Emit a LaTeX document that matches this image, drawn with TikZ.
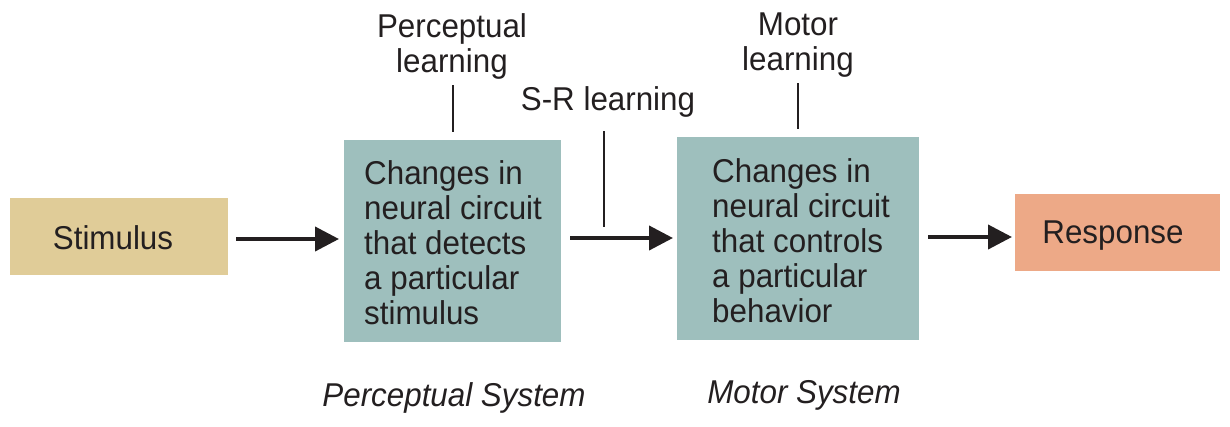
\documentclass[tikz,border=0pt]{standalone}
\usepackage{fontspec}
\setmainfont{Liberation Sans}[FakeStretch=0.95]
\usetikzlibrary{arrows.meta}
\definecolor{stimc}{HTML}{E0CC98}
\definecolor{boxc}{HTML}{9EBFBD}
\definecolor{respc}{HTML}{EDA987}
\definecolor{ink}{HTML}{231F20}
\tikzset{
  lbl/.style={font=\fontsize{33}{35}\selectfont, text=ink, align=center, inner sep=0pt},
  blk/.style={draw=none, inner sep=0pt, anchor=north west},
  boxtext/.style={font=\fontsize{33}{35}\selectfont, text=ink, align=left, anchor=north west, inner sep=0pt},
  flow/.style={line width=4pt, draw=ink, -{Triangle[length=24pt,width=24pt]}},
  tick/.style={line width=1.4pt, draw=ink},
}
\begin{document}
\begin{tikzpicture}[x=1pt,y=-1pt]
\useasboundingbox (0,0) rectangle (1230,426);
% boxes
\node[blk, fill=stimc, minimum width=218pt, minimum height=77pt] (stim) at (10,198) {};
\node[lbl, anchor=base] (stimt) at (113,249) {Stimulus};
\node[blk, fill=boxc, minimum width=217pt, minimum height=202pt] (perc) at (344,140) {};
\node[boxtext] (perct) at (364,160) {Changes in\\neural circuit\\that detects\\a particular\\stimulus};
\node[blk, fill=boxc, minimum width=242pt, minimum height=203pt] (mot) at (677,137) {};
\node[boxtext] (mott) at (712,158) {Changes in\\neural circuit\\that controls\\a particular\\behavior};
\node[blk, fill=respc, minimum width=205pt, minimum height=77pt] (resp) at (1015,194) {};
\node[lbl, anchor=base] (respt) at (1113,243) {Response};
% arrows
\coordinate (a1s) at (236,239); \coordinate (a1e) at (339,239);
\coordinate (a2s) at (570,238); \coordinate (a2e) at (673,238);
\coordinate (a3s) at (928,237); \coordinate (a3e) at (1012,237);
\draw[flow] (a1s) -- (a1e);
\draw[flow] (a2s) -- (a2e);
\draw[flow] (a3s) -- (a3e);
% labels and ticks
\node[lbl, anchor=north] (pl) at (452,13.5) {Perceptual\\learning};
\coordinate (plt) at (453,85); \coordinate (plb) at (453,132);
\draw[tick] (plt) -- (plb);
\node[lbl, anchor=base] (srl) at (608,110) {S-R learning};
\coordinate (srt) at (604,131); \coordinate (srb) at (604,227);
\draw[tick] (srt) -- (srb);
\node[lbl, anchor=north] (ml) at (798,12.5) {Motor\\learning};
\coordinate (mlt) at (798,83); \coordinate (mlb) at (798,129);
\draw[tick] (mlt) -- (mlb);
\node[lbl, anchor=base, font=\fontsize{33}{35}\selectfont\itshape] (ps) at (454,406) {Perceptual System};
\node[lbl, anchor=base, font=\fontsize{33}{35}\selectfont\itshape] (ms) at (804,403) {Motor System};
\end{tikzpicture}
\end{document}
